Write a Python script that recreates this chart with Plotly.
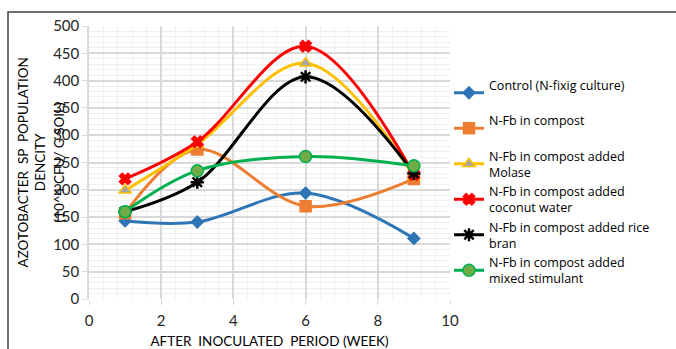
import plotly.graph_objects as go

weeks = [1, 3, 6, 9]
control = [143, 141, 194, 111]
compost = [157, 274, 170, 220]
molase = [199, 283, 432, 225]
coconut = [220, 288, 463, 228]
rice_bran = [160, 214, 407, 230]
mixed = [160, 235, 261, 244]

names = ["Control (N-fixig culture)<br> ", "N-Fb in compost<br> ",
         "N-Fb in compost added<br>Molase", "N-Fb in compost added<br>coconut water",
         "N-Fb in compost added rice<br>bran", "N-Fb in compost added<br>mixed stimulant"]

FONT = "Lato"
L, R, T, B = 89, 226, 26, 50
PW = 676 - L - R
PH = 349 - T - B

fig = go.Figure()

def add(y, name, lc, sym, mcolor, mline, size):
    fig.add_trace(go.Scatter(
        x=weeks, y=y, name=name, mode="lines+markers",
        line=dict(color=lc, width=3, shape="spline", smoothing=1.0),
        marker=dict(symbol=sym, color=mcolor, size=size,
                    line=dict(color=mline, width=1.5)),
    ))

add(control, names[0], "#2E75B6", "diamond", "#2E75B6", "#2E75B6", 9)
add(compost, names[1], "#ED7D31", "square", "#ED7D31", "#ED7D31", 11)
add(molase, names[2], "#FFC000", "triangle-up", "#A5A5A5", "#FFC000", 11)
add(coconut, names[3], "#FF0000", "x", "#FF0000", "#FF0000", 10)
fig.add_trace(go.Scatter(
    x=weeks, y=rice_bran, name=names[4], mode="lines+markers",
    line=dict(color="#000000", width=3, shape="spline", smoothing=1.0),
    marker=dict(symbol="asterisk-open", size=11,
                line=dict(color=["#4472C4", "#4472C4", "#000000", "#4472C4"], width=2.5)),
))
add(mixed, names[5], "#00B050", "circle", "#70AD47", "#00B050", 12)

fig.update_layout(
    width=676, height=349,
    margin=dict(l=L, r=R, t=T, b=B, autoexpand=False),
    paper_bgcolor="white", plot_bgcolor="white",
    font=dict(family=FONT, size=14, color="#262626"),
    showlegend=True,
    legend=dict(x=(449 - L) / PW, y=1 - (70 - T) / PH, xanchor="left", yanchor="top",
                font=dict(family="Open Sans", size=12.5, color="#000000"),
                itemwidth=30, bgcolor="rgba(0,0,0,0)", tracegroupgap=0),
    xaxis=dict(range=[0, 10], dtick=2, tick0=0, showgrid=True, automargin=False,
               gridcolor="#D9D9D9", gridwidth=1.5,
               minor=dict(dtick=0.4, showgrid=True, gridcolor="#F0F0F0", gridwidth=1),
               zeroline=False, showline=False,
               ticks="outside", ticklen=5, tickcolor="#D9D9D9", ticklabelstandoff=3,
               tickfont=dict(family=FONT, size=15, color="#262626"),
               title=dict(text="AFTER  INOCULATED  PERIOD (WEEK)", standoff=10,
                          font=dict(family=FONT, size=13.5, color="#000000"))),
    yaxis=dict(range=[0, 500], dtick=50, showgrid=True, automargin=False,
               gridcolor="#D9D9D9", gridwidth=1.5,
               minor=dict(dtick=10, showgrid=True, gridcolor="#F0F0F0", gridwidth=1),
               zeroline=False, showline=True, linecolor="#D9D9D9", linewidth=1.5,
               ticks="outside", ticklen=5, tickcolor="#D9D9D9",
               tickfont=dict(family=FONT, size=15, color="#262626")),
)

fig.add_annotation(xref="paper", yref="paper", x=(31 - L) / PW, y=0.5,
                   text="AZOTOBACTER  SP  POPULATION<br>DENCITY",
                   textangle=-90, showarrow=False,
                   font=dict(family=FONT, size=13.5, color="#000000"),
                   xanchor="center", yanchor="middle")
fig.add_annotation(xref="paper", yref="paper", x=(58 - L) / PW, y=0.5,
                   text="(10^4 CFU/ G SOIL)",
                   textangle=-90, showarrow=False,
                   font=dict(family=FONT, size=13.5, color="#000000"),
                   xanchor="center", yanchor="middle")

fig.add_shape(type="rect", xref="paper", yref="paper",
              x0=(8 - L) / PW, x1=1.8, y0=-0.3, y1=1 + (T - 12) / PH,
              line=dict(color="#404040", width=1.5), fillcolor="rgba(0,0,0,0)", layer="below")

fig.write_html("out.html")
